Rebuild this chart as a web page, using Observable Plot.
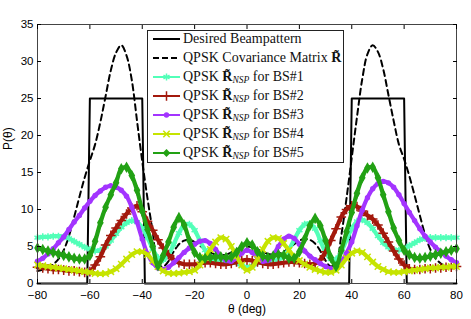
<!DOCTYPE html>
<html><head><meta charset="utf-8">
<script src="https://cdn.jsdelivr.net/npm/d3@7"></script>
<script src="https://cdn.jsdelivr.net/npm/@observablehq/plot@0.6"></script>
<style>
html,body{margin:0;padding:0;background:#fff;}
#wrap{position:relative;width:471px;height:319px;}
#legend{position:absolute;left:147px;top:30px;width:195px;height:131px;border:1px solid #222;background:#fff;font-family:"Liberation Serif","Times New Roman",serif;font-size:14px;color:#111;}
.row{position:absolute;left:0;height:19px;display:flex;align-items:center;white-space:nowrap;}
.row svg{margin-left:5px;margin-right:3px;flex:none;}
.row sub{font-size:9.5px;font-style:italic;vertical-align:-2px;}
</style></head><body><div id="wrap"></div>
<script>
// angle grid (deg)
const theta = d3.range(-80, 81, 2);
const xTicks = [-80, -60, -40, -20, 0, 20, 40, 60, 80];
const yTicks = [0, 5, 10, 15, 20, 25, 30, 35];

// Desired beampattern (step shape)
const desiredTheta = [-80, -61, -60, -40, -39, 39, 40, 60, 61, 80];
const desiredP     = [0, 0, 25, 25, 0, 0, 25, 25, 0, 0];

// QPSK covariance matrix R~
const pCov = [1.7,1.9,2.2,2.6,3.3,4.5,6.4,9.0,11.7,14.3,16.6,18.8,21.8,25.3,28.8,31.2,32.2,30.8,27.5,22.0,
  16.5,11.5,7.0,2.6,2.3,3.0,4.3,5.3,5.8,5.9,5.6,5.1,4.6,4.2,3.9,3.8,3.9,4.2,4.6,4.9,
  5.0,
  4.9,4.6,4.3,4.0,3.9,4.0,4.3,4.8,5.3,5.8,6.0,5.9,5.4,4.4,3.1,2.3,2.8,6.5,11.5,17.0,
  22.5,27.6,31.0,32.2,31.3,29.0,25.5,22.0,18.8,16.8,14.5,11.9,9.2,6.6,4.6,3.4,2.7,2.3,2.1,2.0];

const pBS1 = [6.2,6.3,6.3,6.4,6.4,6.3,6.1,5.7,5.3,4.9,4.6,4.4,4.5,5.0,5.8,6.7,7.6,8.2,8.5,8.3,
  7.5,6.2,4.7,3.5,3.2,3.9,5.3,6.8,7.9,8.0,7.2,5.8,4.5,3.6,3.1,3.0,3.1,3.1,2.8,2.4,
  2.2,
  2.4,2.8,3.1,3.1,3.0,3.2,3.7,4.6,5.9,7.2,8.0,8.1,7.4,5.8,4.2,3.3,3.3,4.3,5.9,7.4,
  8.4,8.6,8.2,7.4,6.4,5.5,4.9,4.6,4.5,4.7,5.1,5.5,5.9,6.1,6.2,6.2,6.2,6.2,6.2,6.2];

const pBS2 = [2.2,2.1,2.0,1.9,1.9,1.8,1.7,1.7,1.6,1.5,1.6,2.5,3.6,5.2,6.5,7.5,8.5,9.4,10.2,10.5,
  9.7,8.4,7.2,5.9,4.8,3.9,3.2,2.8,2.6,2.6,2.6,2.7,2.8,2.8,2.7,2.6,2.6,2.7,2.9,3.1,
  3.2,
  3.1,2.9,2.7,2.6,2.6,2.7,2.8,2.9,2.9,2.8,2.7,2.6,2.7,3.2,4.3,5.8,7.4,9.0,10.0,10.5,
  10.4,9.8,9.2,8.7,7.9,6.8,5.6,4.4,3.3,2.5,2.0,1.9,1.9,2.0,2.0,2.1,2.1,2.2,2.2,2.3];

const pBS3 = [3.0,3.4,4.0,4.7,5.5,6.3,7.3,8.3,9.2,10.2,11.1,11.9,12.5,13.0,13.2,13.0,12.6,11.8,10.3,8.3,
  6.0,4.0,2.8,2.1,1.9,2.2,2.8,3.5,4.2,4.8,5.3,5.7,5.8,5.4,4.6,3.7,3.1,3.0,3.4,4.1,
  4.5,
  4.2,3.5,3.0,3.1,3.8,5.0,6.0,6.4,6.1,5.3,4.4,3.7,3.2,2.7,2.3,2.0,2.1,2.9,4.1,5.6,
  7.8,9.9,11.6,12.8,13.5,13.8,13.6,13.0,12.0,10.8,9.6,8.5,7.4,6.4,5.6,4.9,4.3,3.7,3.2,2.8];

const pBS4 = [2.5,2.4,2.3,2.2,2.1,2.0,1.9,1.8,1.7,1.6,1.5,1.35,1.3,1.35,1.6,2.0,2.6,3.3,3.9,4.3,
  4.3,3.9,3.1,2.3,1.7,1.4,1.35,1.4,1.5,1.6,1.8,2.5,3.5,4.6,5.6,6.2,6.0,5.0,3.7,2.5,
  1.8,
  2.2,3.3,4.6,5.7,6.2,6.1,5.4,4.5,3.7,3.1,2.6,2.2,1.9,1.7,1.5,1.5,1.8,2.5,3.4,4.1,
  4.4,4.2,3.6,2.9,2.3,1.9,1.6,1.5,1.5,1.6,1.7,1.8,1.9,2.0,2.1,2.1,2.2,2.2,2.3,2.3];

const pBS5 = [4.8,4.6,4.4,4.2,4.0,3.8,3.6,3.4,3.3,3.3,3.8,5.7,8.2,10.3,12.0,13.6,15.5,15.7,14.6,12.6,
  9.8,7.3,5.0,2.4,3.8,5.6,7.6,8.9,7.9,5.8,4.2,3.5,3.4,3.5,3.6,3.6,3.5,3.6,4.2,5.0,
  5.5,
  5.2,4.3,3.7,3.5,3.7,3.9,3.8,3.4,3.4,4.3,6.0,7.8,8.8,7.8,5.8,3.5,2.3,4.5,7.0,9.6,
  12.2,14.3,15.6,15.7,14.3,12.0,9.7,7.5,5.8,4.5,3.9,3.5,3.4,3.5,3.7,3.9,4.1,4.3,4.5,4.7];

const bsNames = ["BS#1", "BS#2", "BS#3", "BS#4", "BS#5"];
const bsValues = [pBS1, pBS2, pBS3, pBS4, pBS5];
const bsColors = ["#52FFB8", "#A3190C", "#A334FF", "#C6E400", "#22A114"];
const bsSymbols = ["asterisk", "plus", "circle", "times", "diamond"];
const bsFilled = [false, false, true, false, true];
const bsR = [3.3, 3.2, 2.7, 3.0, 3.5];

const rows = vals => theta.map((t, i) => ({theta: t, p: vals[i]}));
const desiredRows = desiredTheta.map((t, i) => ({theta: t, p: desiredP[i]}));

const marks = [
  Plot.line(desiredRows, {x: "theta", y: "p", stroke: "#000", strokeWidth: 2}),
  Plot.line(rows(pCov), {x: "theta", y: "p", stroke: "#000", strokeWidth: 2, strokeDasharray: "6,4", curve: "catmull-rom"})
];
bsValues.forEach((vals, k) => {
  marks.push(Plot.line(rows(vals), {x: "theta", y: "p", stroke: bsColors[k], strokeWidth: 4.2, curve: "catmull-rom"}));
  const style = bsFilled[k] ? {fill: bsColors[k]} : {stroke: bsColors[k], strokeWidth: 1.5};
  marks.push(Plot.dot(rows(vals), {x: "theta", y: "p", symbol: bsSymbols[k], r: bsR[k], ...style}));
});
marks.push(
  Plot.frame({stroke: "#444"}),
  Plot.axisX(xTicks, {anchor: "bottom", tickSize: -4, tickPadding: 11, label: null}),
  Plot.axisX(xTicks, {anchor: "top", tickSize: -4, tickFormat: () => "", label: null}),
  Plot.axisY(yTicks, {anchor: "left", tickSize: -4, tickPadding: 8, label: null}),
  Plot.axisY(yTicks, {anchor: "right", tickSize: -4, tickFormat: () => "", label: null}),
  Plot.text(["θ (deg)"], {text: d => d, frameAnchor: "bottom", dy: 29, fontSize: 12}),
  Plot.text(["P(θ)"], {text: d => d, frameAnchor: "left", dx: -29, dy: -4, rotate: -90, fontSize: 12})
);

const chart = Plot.plot({
  width: 471, height: 319,
  marginLeft: 37, marginRight: 15, marginTop: 24, marginBottom: 36,
  x: {domain: [-80, 80]},
  y: {domain: [0, 35]},
  style: {fontFamily: "'Liberation Sans', Arial, sans-serif", fontSize: "11.5px", color: "#000", background: "#fff"},
  marks
});
const wrap = document.getElementById("wrap");
wrap.appendChild(chart);

// Legend
const legend = document.createElement("div");
legend.id = "legend";
const entries = [
  {label: "Desired Beampattern", color: "#000", dash: null, k: -1},
  {label: "QPSK Covariance Matrix <b>R&#771;</b>", color: "#000", dash: "6,3", k: -1}
].concat(bsNames.map((n, k) => ({label: `QPSK <b>R&#771;</b><sub>NSP</sub>&nbsp;for ${n}`, color: bsColors[k], dash: null, k})));
entries.forEach((e, i) => {
  const row = document.createElement("div");
  row.className = "row";
  row.style.top = (-1.5 + i * 19.05) + "px";
  const svg = d3.create("svg").attr("width", 27).attr("height", 12);
  svg.append("line").attr("x1", 0).attr("x2", 27).attr("y1", 6).attr("y2", 6)
    .attr("stroke", e.color).attr("stroke-width", 2).attr("stroke-dasharray", e.dash);
  if (e.k >= 0) {
    const symMap = {asterisk: d3.symbolAsterisk, plus: d3.symbolPlus, circle: d3.symbolCircle, times: d3.symbolTimes, diamond: d3.symbolDiamond2};
    const r = bsR[e.k];
    const path = d3.symbol(symMap[bsSymbols[e.k]], Math.PI * r * r)();
    const p = svg.append("path").attr("d", path).attr("transform", "translate(13.5,6)");
    if (bsFilled[e.k]) p.attr("fill", e.color); else p.attr("fill", "none").attr("stroke", e.color).attr("stroke-width", 1.5);
  }
  row.appendChild(svg.node());
  const span = document.createElement("span");
  span.innerHTML = e.label;
  row.appendChild(span);
  legend.appendChild(row);
});
wrap.appendChild(legend);
</script></body></html>
